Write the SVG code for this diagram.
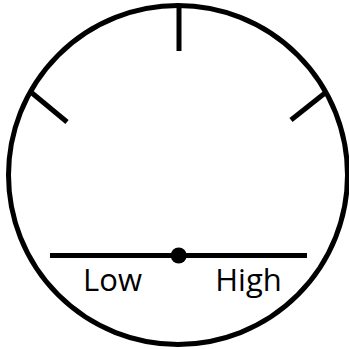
<svg xmlns="http://www.w3.org/2000/svg" width="349" height="349" viewBox="0 0 349 349">
<style>
.s{stroke:#000;stroke-width:5;fill:none}
.t{font-family:"Open Sans","Noto Sans",sans-serif;font-size:31px;fill:#000;text-anchor:middle}
</style>
<rect width="349" height="349" fill="#fff"/>
<g id="dial"><circle class="s" cx="178" cy="175" r="169.5"/></g>
<g id="ticks">
<line class="s" x1="179" y1="8" x2="179" y2="51"/>
<line class="s" x1="32" y1="93" x2="67" y2="122"/>
<line class="s" x1="325" y1="93" x2="291" y2="120"/>
</g>
<g id="scale">
<line class="s" x1="50" y1="255.5" x2="307" y2="255.5"/>
<circle cx="178.7" cy="255.5" r="8" fill="#000"/>
<text class="t" x="112.5" y="291">Low</text>
<text class="t" x="248.5" y="291">High</text>
</g>
</svg>
